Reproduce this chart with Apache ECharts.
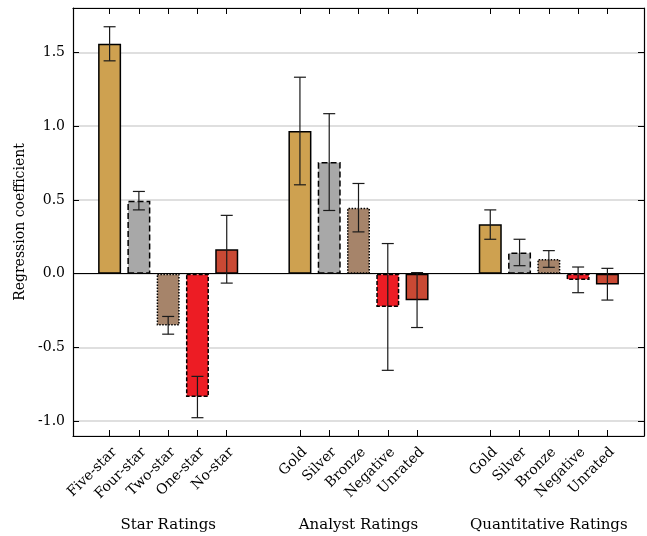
<!DOCTYPE html>
<html>
<head>
<meta charset="utf-8">
<script src="https://cdn.jsdelivr.net/npm/echarts@6/dist/echarts.min.js"></script>
<style>
  html, body { margin: 0; padding: 0; background: #fff; }
  #chart { width: 647px; height: 536px; }
</style>
</head>
<body>
<div id="chart"></div>
<script>
// ---------- data ----------
const groupNames = ['Star Ratings', 'Analyst Ratings', 'Quantitative Ratings'];
const starCats = ['Five-star', 'Four-star', 'Two-star', 'One-star', 'No-star'];
const analystCats = ['Gold', 'Silver', 'Bronze', 'Negative', 'Unrated'];
const quantCats = ['Gold', 'Silver', 'Bronze', 'Negative', 'Unrated'];

const starValues = [1.557, 0.494, -0.351, -0.836, 0.165];
const starLow = [1.442, 0.432, -0.410, -0.976, -0.064];
const starHigh = [1.673, 0.557, -0.290, -0.696, 0.395];

const analystValues = [0.967, 0.756, 0.446, -0.226, -0.181];
const analystLow = [0.602, 0.428, 0.283, -0.655, -0.365];
const analystHigh = [1.331, 1.084, 0.611, 0.204, 0.007];

const quantValues = [0.335, 0.143, 0.099, -0.043, -0.074];
const quantLow = [0.233, 0.054, 0.043, -0.129, -0.179];
const quantHigh = [0.432, 0.233, 0.156, 0.045, 0.036];

const yTicks = [-1.0, -0.5, 0.0, 0.5, 1.0, 1.5];

// ---------- styles (per rank within a group) ----------
const fillColors = ['#CEA150', '#A8A8A8', '#A6846A', '#ED1C24', '#C94934'];
const borderTypes = ['solid', [6, 3], [1.5, 1.5], [4, 2], 'solid'];

// ---------- layout of category slots ----------
const groups = [
  { cats: starCats, vals: starValues, low: starLow, high: starHigh },
  { cats: analystCats, vals: analystValues, low: analystLow, high: analystHigh },
  { cats: quantCats, vals: quantValues, low: quantLow, high: quantHigh }
];
const groupStart = [2, 15, 28];
const slotStep = 2;
const nSlots = 39;

const axisCats = new Array(nSlots).fill('');
const barData = new Array(nSlots).fill('-');
const errData = [];
const groupCenters = [];

groups.forEach(function (g, gi) {
  g.cats.forEach(function (c, i) {
    const idx = groupStart[gi] + i * slotStep;
    axisCats[idx] = c;
    barData[idx] = {
      value: g.vals[i],
      itemStyle: {
        color: fillColors[i],
        borderColor: '#000',
        borderWidth: 1.5,
        borderType: borderTypes[i]
      }
    };
    errData.push([idx, g.low[i], g.high[i]]);
  });
  groupCenters.push(groupStart[gi] + (g.cats.length - 1) * slotStep / 2);
});

const FONT = 'DejaVu Serif';
const showCat = function (i, v) { return v !== ''; };

const chart = echarts.init(document.getElementById('chart'), null, { renderer: 'canvas' });

const option = {
  backgroundColor: '#fff',
  animation: false,
  grid: { left: 73, right: 3, top: 8, bottom: 100, containLabel: false },
  xAxis: [
    {
      type: 'category',
      data: axisCats,
      position: 'bottom',
      boundaryGap: true,
      z: 5,
      axisLine: { show: true, onZero: false, lineStyle: { color: '#000', width: 1.2 } },
      axisTick: {
        show: true, inside: true, length: 6, alignWithLabel: true,
        interval: showCat,
        lineStyle: { color: '#000', width: 1 }
      },
      axisLabel: {
        show: true, rotate: 45, margin: 9,
        verticalAlign: 'top',
        interval: showCat,
        fontFamily: FONT, fontSize: 14, color: '#000'
      },
      splitLine: { show: false }
    },
    {
      type: 'category',
      data: axisCats,
      position: 'top',
      boundaryGap: true,
      z: 5,
      axisLine: { show: true, onZero: false, lineStyle: { color: '#000', width: 1.2 } },
      axisTick: {
        show: true, inside: true, length: 6, alignWithLabel: true,
        interval: showCat,
        lineStyle: { color: '#000', width: 1 }
      },
      axisLabel: { show: false },
      splitLine: { show: false }
    }
  ],
  yAxis: [
    {
      type: 'value',
      min: -1.1,
      max: 1.8,
      splitNumber: 6,
      position: 'left',
      name: 'Regression coefficient',
      nameLocation: 'middle',
      nameGap: 43,
      nameTextStyle: { fontFamily: FONT, fontSize: 14, color: '#000' },
      axisLine: { show: true, onZero: false, lineStyle: { color: '#000', width: 1.2 } },
      axisTick: { show: true, inside: true, length: 6, lineStyle: { color: '#000', width: 1 } },
      axisLabel: {
        show: true, margin: 8, showMinLabel: false, showMaxLabel: false,
        fontFamily: FONT, fontSize: 14, color: '#000',
        formatter: function (v) {
          const hit = yTicks.find(function (t) { return Math.abs(t - v) < 1e-6; });
          return hit === undefined ? '' : hit.toFixed(1);
        }
      },
      splitLine: { show: true, lineStyle: { color: '#d4d4d4', width: 1.5 } }
    },
    {
      type: 'value',
      min: -1.1,
      max: 1.8,
      splitNumber: 6,
      position: 'right',
      axisLine: { show: true, onZero: false, lineStyle: { color: '#000', width: 1.2 } },
      axisTick: { show: true, inside: true, length: 6, lineStyle: { color: '#000', width: 1 } },
      axisLabel: { show: false },
      splitLine: { show: false }
    }
  ],
  series: [
    {
      type: 'bar',
      xAxisIndex: 0,
      yAxisIndex: 0,
      data: barData,
      barWidth: 23,
      z: 3,
      markLine: {
        silent: true,
        symbol: 'none',
        label: { show: false },
        lineStyle: { color: '#000', width: 1.2, type: 'solid' },
        data: [{ yAxis: 0 }]
      }
    },
    {
      type: 'custom',
      xAxisIndex: 0,
      yAxisIndex: 0,
      data: errData,
      encode: { x: 0, y: [1, 2] },
      z: 10,
      silent: true,
      renderItem: function (params, api) {
        const x = api.value(0);
        const lo = api.coord([x, api.value(1)]);
        const hi = api.coord([x, api.value(2)]);
        const hw = 6;
        const style = { stroke: '#1a1a1a', lineWidth: 1.2 };
        return {
          type: 'group',
          children: [
            { type: 'line', shape: { x1: lo[0], y1: lo[1], x2: hi[0], y2: hi[1] }, style: style },
            { type: 'line', shape: { x1: lo[0] - hw, y1: lo[1], x2: lo[0] + hw, y2: lo[1] }, style: style },
            { type: 'line', shape: { x1: hi[0] - hw, y1: hi[1], x2: hi[0] + hw, y2: hi[1] }, style: style }
          ]
        };
      }
    }
  ]
};

chart.setOption(option);

// group titles under the category labels, x from the category scale
const groupLabelY = 525;
chart.setOption({
  graphic: groupNames.map(function (name, gi) {
    const px = chart.convertToPixel({ xAxisIndex: 0 }, groupCenters[gi]);
    return {
      type: 'text',
      x: px,
      y: groupLabelY,
      silent: true,
      style: {
        text: name,
        fontFamily: FONT,
        fontSize: 15,
        fill: '#000',
        align: 'center',
        verticalAlign: 'middle'
      }
    };
  })
});
</script>
</body>
</html>
